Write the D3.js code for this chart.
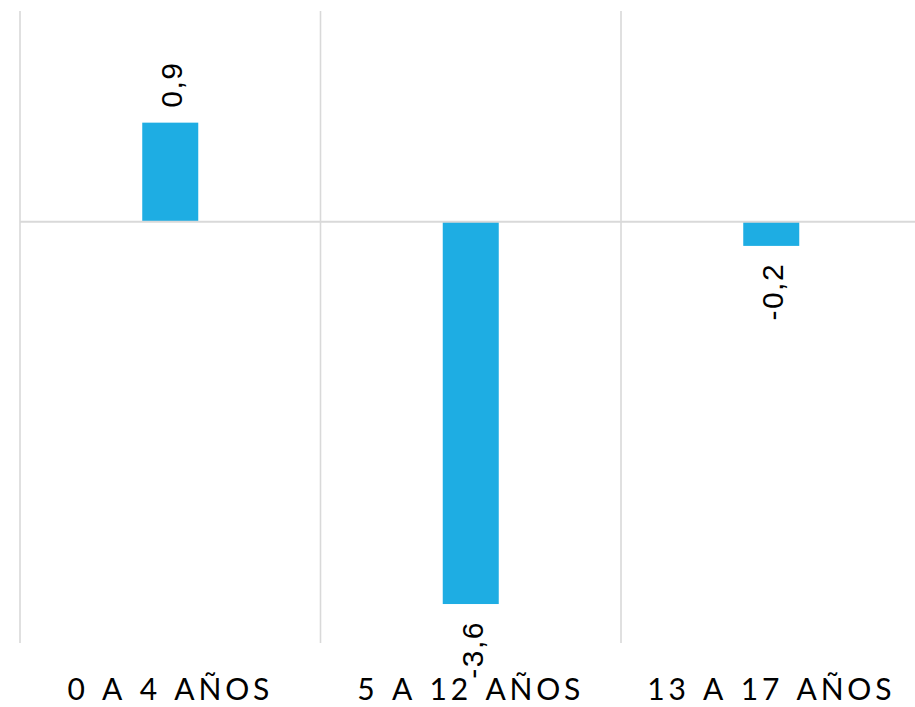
<!DOCTYPE html>
<html>
<head>
<meta charset="utf-8">
<script src="https://cdn.jsdelivr.net/npm/d3@7"></script>
<style>
  html, body { margin: 0; padding: 0; background: #fff; }
  svg { display: block; }
</style>
</head>
<body>
<svg id="chart" width="915" height="707"></svg>
<script>
const categories = ["0 A 4 AÑOS", "5 A 12 AÑOS", "13 A 17 AÑOS"];
const values = [0.94, -3.63, -0.23];
const yDomain = [-4, 2];

(function () {
const svg = d3.select("#chart");
const plotTop = 11, plotBottom = 643, plotLeft = 20, plotRight = 921.5;

const x = d3.scaleBand().domain(categories).range([plotLeft, plotRight]).paddingInner(0).paddingOuter(0);
const y = d3.scaleLinear().domain(yDomain).range([plotBottom, plotTop]);
const barW = 56;
const fmt = v => d3.format(".1f")(v).replace(".", ",").replace("−", "-");

// vertical gridlines at category boundaries
const bounds = categories.map(c => x(c)).concat([x(categories[categories.length - 1]) + x.bandwidth()]);
svg.append("g").selectAll("line").data(bounds).join("line")
  .attr("x1", d => d).attr("x2", d => d)
  .attr("y1", plotTop).attr("y2", plotBottom)
  .attr("stroke", "#d9d9d9").attr("stroke-width", 1.6);

// bars
svg.append("g").selectAll("rect").data(values).join("rect")
  .attr("x", (d, i) => x(categories[i]) + x.bandwidth() / 2 - barW / 2)
  .attr("width", barW)
  .attr("y", d => y(Math.max(0, d)))
  .attr("height", d => Math.abs(y(d) - y(0)))
  .attr("fill", "#1eade3");

// zero line
svg.append("line")
  .attr("x1", plotLeft).attr("x2", 915)
  .attr("y1", y(0)).attr("y2", y(0))
  .attr("stroke", "#d9d9d9").attr("stroke-width", 2);

// value labels (rotated)
svg.append("g").selectAll("text").data(values).join("text")
  .attr("transform", (d, i) => {
    const cx = x(categories[i]) + x.bandwidth() / 2 + 1;
    const yy = d >= 0 ? y(d) - 15 : y(d) + 17;
    return `translate(${cx},${yy}) rotate(-90)`;
  })
  .attr("text-anchor", d => d >= 0 ? "start" : "end")
  .attr("dy", "0.36em")
  .attr("font-family", "'Liberation Sans', Arial, sans-serif")
  .attr("font-size", 30)
  .attr("letter-spacing", 1.5)
  .attr("fill", "#000")
  .text(d => fmt(d));

// category labels
svg.append("g").selectAll("text").data(categories).join("text")
  .attr("x", d => x(d) + x.bandwidth() / 2)
  .attr("y", 700)
  .attr("text-anchor", "middle")
  .attr("font-family", "Lato, sans-serif")
  .attr("font-size", 30)
  .attr("letter-spacing", 3.8)
  .attr("word-spacing", 3)
  .attr("fill", "#000")
  .text(d => d);
})();
</script>
</body>
</html>
